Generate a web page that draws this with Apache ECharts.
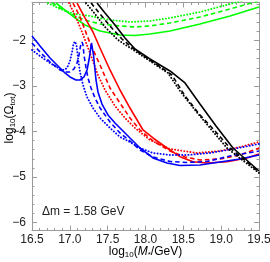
<!DOCTYPE html>
<html><head><meta charset="utf-8">
<script src="https://cdn.jsdelivr.net/npm/echarts@6/dist/echarts.min.js"></script>
<style>html,body{margin:0;padding:0;background:#fff}#c{width:270px;height:262px}</style>
</head><body><div id="c"></div>
<script>
// ---- data (x = log10(M*/GeV), y = log10(Omega_tot)) ----
const yMajorTicks = [-6, -5, -4, -3, -2];
const yMinorTicks = [-6.0,-5.8,-5.6,-5.4,-5.2,-5.0,-4.8,-4.6,-4.4,-4.2,-4.0,-3.8,-3.6,-3.4,-3.2,-3.0,-2.8,-2.6,-2.4,-2.2,-2.0,-1.8,-1.6,-1.4,-1.2];
const annotation = 'Δm = 1.58 GeV';

const blueSolid = [[16.50,-1.901],[16.606,-2.121],[16.738,-2.385],[16.870,-2.604],[16.936,-2.714],[17.002,-2.802],[17.081,-2.868],[17.134,-2.868],[17.187,-2.802],[17.227,-2.648],[17.253,-2.429],[17.273,-2.209],[17.286,-2.055],[17.300,-2.055],[17.313,-2.319],[17.326,-2.538],[17.346,-2.868],[17.372,-3.132],[17.425,-3.396],[17.504,-3.637],[17.597,-3.813],[17.663,-3.923],[17.795,-4.143],[17.927,-4.363],[18.099,-4.582],[18.284,-4.692],[18.456,-4.747],[18.720,-4.736],[18.984,-4.670],[19.249,-4.604],[19.500,-4.516]];
const blueDashed = [[16.50,-2.055],[16.606,-2.253],[16.738,-2.473],[16.870,-2.648],[16.936,-2.692],[17.002,-2.692],[17.055,-2.626],[17.095,-2.495],[17.121,-2.319],[17.141,-2.121],[17.161,-2.033],[17.174,-2.099],[17.187,-2.319],[17.214,-2.604],[17.240,-2.824],[17.280,-3.044],[17.333,-3.264],[17.399,-3.484],[17.531,-3.791],[17.663,-4.033],[17.795,-4.209],[17.927,-4.407],[18.099,-4.560],[18.324,-4.659],[18.548,-4.681],[18.813,-4.659],[19.117,-4.538],[19.500,-4.429]];
const blueDotted = [[16.50,-2.209],[16.606,-2.341],[16.738,-2.495],[16.870,-2.626],[16.923,-2.648],[16.963,-2.604],[17.002,-2.451],[17.029,-2.253],[17.048,-2.077],[17.068,-2.022],[17.088,-2.099],[17.108,-2.385],[17.134,-2.692],[17.174,-2.978],[17.227,-3.242],[17.306,-3.484],[17.399,-3.703],[17.531,-3.923],[17.663,-4.121],[17.795,-4.231],[17.927,-4.363],[18.099,-4.473],[18.324,-4.516],[18.548,-4.516],[18.852,-4.473],[19.156,-4.385],[19.500,-4.275]];

const redSolid = [[17.095,-1.176],[17.200,-1.505],[17.306,-1.813],[17.399,-2.165],[17.531,-2.648],[17.663,-3.088],[17.795,-3.484],[17.967,-3.967],[18.099,-4.143],[18.284,-4.363],[18.456,-4.554],[18.628,-4.664],[18.813,-4.692],[19.077,-4.664],[19.341,-4.582],[19.500,-4.495]];
const redDashed = [[17.042,-1.176],[17.134,-1.484],[17.266,-2.055],[17.399,-2.538],[17.531,-3.044],[17.663,-3.374],[17.795,-3.703],[17.927,-3.967],[18.099,-4.209],[18.324,-4.429],[18.522,-4.560],[18.720,-4.626],[18.984,-4.604],[19.249,-4.516],[19.500,-4.363]];
const redDotted = [[16.989,-1.176],[17.068,-1.440],[17.161,-1.813],[17.266,-2.275],[17.372,-2.758],[17.465,-3.088],[17.597,-3.440],[17.729,-3.703],[17.861,-3.923],[18.059,-4.187],[18.324,-4.385],[18.680,-4.473],[18.984,-4.429],[19.249,-4.341],[19.500,-4.231]];

const greenSolid = [[16.817,-1.176],[16.936,-1.330],[17.068,-1.505],[17.200,-1.659],[17.399,-1.791],[17.663,-1.879],[17.861,-1.890],[18.059,-1.857],[18.324,-1.791],[18.720,-1.637],[19.117,-1.462],[19.500,-1.264]];
const greenDashed = [[16.764,-1.176],[16.896,-1.308],[17.068,-1.462],[17.200,-1.549],[17.399,-1.637],[17.663,-1.681],[17.861,-1.703],[18.059,-1.681],[18.324,-1.615],[18.720,-1.484],[19.117,-1.308],[19.500,-1.132]];
const greenDotted = [[16.711,-1.176],[16.870,-1.308],[17.068,-1.418],[17.266,-1.462],[17.531,-1.549],[17.795,-1.593],[18.059,-1.571],[18.324,-1.505],[18.720,-1.374],[19.117,-1.198],[19.315,-1.110]];

const blackSolid = [[17.359,-1.176],[17.465,-1.396],[17.597,-1.659],[17.729,-1.945],[17.861,-2.187],[18.059,-2.407],[18.324,-2.670],[18.522,-2.934],[18.720,-3.396],[18.932,-3.879],[19.156,-4.363],[19.500,-4.868]];
const blackDashed = [[17.280,-1.176],[17.399,-1.418],[17.531,-1.681],[17.689,-1.967],[17.861,-2.209],[18.059,-2.429],[18.350,-2.758],[18.522,-3.220],[18.720,-3.637],[18.918,-3.989],[19.117,-4.363],[19.500,-4.890]];
const blackDotted = [[17.214,-1.176],[17.333,-1.418],[17.465,-1.703],[17.637,-1.989],[17.861,-2.231],[18.059,-2.451],[18.297,-2.714],[18.456,-3.110],[18.654,-3.527],[18.852,-3.923],[19.077,-4.363],[19.500,-4.912]];

// ---- styling ----
const FONT = '"Liberation Sans", Arial, sans-serif';
const AX = '#9a9a9a';
const TXT = '#222';
const X_MIN = 16.5, X_MAX = 19.5, Y_MIN = -6.176, Y_MAX = -1.165;
const DASH = [4.5, 3];
const DOT = [0.1, 3];

function mk(data, color, kind) {
  return {
    type: 'line', data: data, xAxisIndex: 0, yAxisIndex: 0,
    showSymbol: false, symbol: 'none', smooth: false, clip: true, silent: true,
    lineStyle: {
      color: color, width: kind === 'dotted' ? 1.9 : 1.6,
      type: kind === 'solid' ? 'solid' : (kind === 'dashed' ? DASH : DOT),
      cap: kind === 'dotted' ? 'round' : 'butt'
    }
  };
}

const richName = {
  n: { fontSize: 12, fontFamily: FONT, color: TXT },
  s: { fontSize: 8, fontFamily: FONT, color: TXT, padding: [6, 0, 0, 0] },
  i: { fontSize: 12, fontFamily: FONT, color: TXT, fontStyle: 'italic' }
};

const fmtY = v => (v < 0 ? '\u2212' : '') + Math.abs(v).toFixed(0);

function xAx(pos, labels) {
  return {
    type: 'value', position: pos, min: X_MIN, max: X_MAX, interval: 0.5,
    axisLine: { show: true, onZero: false, lineStyle: { color: AX, width: 1 } },
    axisTick: { show: true, inside: true, length: 5, lineStyle: { color: AX } },
    minorTick: { show: true, splitNumber: 5, length: 2.5, lineStyle: { color: AX } },
    axisLabel: { show: labels, formatter: v => v.toFixed(1), fontSize: 12, fontFamily: FONT, color: TXT, margin: 3 },
    splitLine: { show: false }, minorSplitLine: { show: false }
  };
}
function yAx(pos, ticks, len, labels) {
  return {
    type: 'value', position: pos, min: Y_MIN, max: Y_MAX,
    axisLine: { show: true, onZero: false, lineStyle: { color: AX, width: 1 } },
    axisTick: { show: true, inside: true, length: len, customValues: ticks, lineStyle: { color: AX } },
    axisLabel: { show: labels, customValues: ticks, formatter: fmtY, fontSize: 12, fontFamily: FONT, color: TXT, margin: 6 },
    splitLine: { show: false }
  };
}

const chart = echarts.init(document.getElementById('c'), null, { renderer: 'canvas' });
chart.setOption({
  animation: false,
  backgroundColor: '#fff',
  grid: { left: 32, right: 11, top: 2.5, bottom: 31.5, containLabel: false, outerBoundsMode: 'none' },
  xAxis: [xAx('bottom', true), xAx('top', false)],
  yAxis: [
    yAx('left', yMajorTicks, 5, true),
    yAx('left', yMinorTicks, 2.5, false),
    yAx('right', yMajorTicks, 5, false),
    yAx('right', yMinorTicks, 2.5, false)
  ],
  graphic: [
    { type: 'text', left: 42, top: 206, silent: true,
      style: { text: annotation, fontSize: 12, fontFamily: FONT, fill: TXT } },
    { type: 'text', x: 145.5, y: 252, silent: true,
      style: { text: '{n|log}{s|10}{n|(}{i|M}{s|*}{n|/GeV)}', rich: richName, align: 'center', verticalAlign: 'middle' } },
    { type: 'text', x: 10, y: 118, rotation: Math.PI / 2, silent: true,
      style: { text: '{n|log}{s|10}{n|(Ω}{s|tot}{n|)}', rich: richName, align: 'center', verticalAlign: 'middle' } }
  ],
  series: [
    mk(greenSolid, '#00ff00', 'solid'), mk(greenDashed, '#00ff00', 'dashed'), mk(greenDotted, '#00ff00', 'dotted'),
    mk(redSolid, '#ff0000', 'solid'), mk(redDashed, '#ff0000', 'dashed'), mk(redDotted, '#ff0000', 'dotted'),
    mk(blueSolid, '#0000ff', 'solid'), mk(blueDashed, '#0000ff', 'dashed'), mk(blueDotted, '#0000ff', 'dotted'),
    mk(blackSolid, '#000000', 'solid'), mk(blackDashed, '#000000', 'dashed'), mk(blackDotted, '#000000', 'dotted')
  ]
});
</script>
</body></html>
